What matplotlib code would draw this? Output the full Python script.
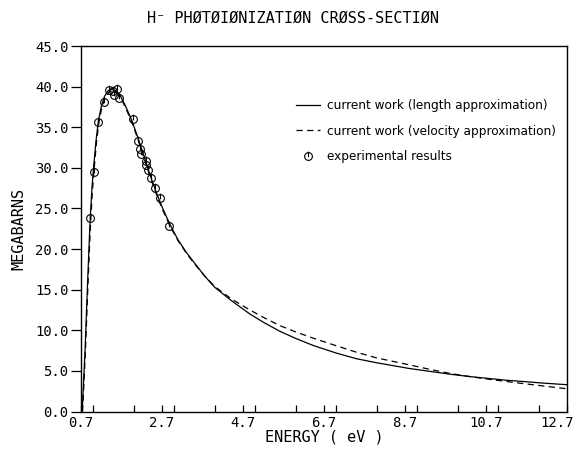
import numpy as np
import matplotlib
matplotlib.use("Agg")
import matplotlib.pyplot as plt
from matplotlib.path import Path
from matplotlib.ticker import MultipleLocator, FormatStrFormatter
from matplotlib.transforms import ScaledTranslation

# length approximation (solid)
len_energy = [0.73, 0.80, 0.86, 0.92, 0.97, 1.01, 1.07, 1.13, 1.20, 1.28, 1.37, 1.47,
              1.57, 1.67, 1.80, 1.95, 2.10, 2.25, 2.40, 2.55, 2.70, 2.90, 3.10, 3.30,
              3.50, 3.75, 4.00, 4.40, 4.87, 5.20, 5.60, 6.00, 6.45, 7.00, 7.50, 8.00,
              8.80, 9.30, 9.80, 10.30, 10.80, 11.20, 11.60, 12.10, 12.70]
len_sigma = [0.0, 7.5, 15.5, 23.0, 27.5, 30.0, 33.3, 35.8, 37.5, 38.8, 39.5, 39.7,
             39.5, 38.9, 37.6, 35.9, 33.8, 31.5, 29.2, 27.1, 25.2, 23.0, 21.1, 19.6,
             18.3, 16.7, 15.3, 13.7, 12.0, 11.0, 9.9, 9.0, 8.1, 7.2, 6.5, 6.0,
             5.3, 4.95, 4.6, 4.3, 4.05, 3.85, 3.7, 3.5, 3.3]

# velocity approximation (dashed)
vel_energy = [0.74, 0.81, 0.87, 0.93, 0.98, 1.02, 1.08, 1.14, 1.21, 1.29, 1.38, 1.48,
              1.58, 1.68, 1.80, 1.95, 2.10, 2.25, 2.40, 2.55, 2.70, 2.90, 3.10, 3.30,
              3.50, 3.75, 4.00, 4.40, 4.87, 5.20, 5.60, 6.00, 6.45, 7.00, 7.50, 8.00,
              8.80, 9.30, 9.80, 10.30, 10.80, 11.20, 11.60, 12.10, 12.70]
vel_sigma = [0.0, 7.5, 15.3, 22.5, 27.0, 29.6, 33.0, 35.5, 37.3, 38.6, 39.3, 39.5,
             39.3, 38.7, 37.4, 35.7, 33.6, 31.3, 29.0, 26.9, 25.0, 22.8, 21.0, 19.5,
             18.2, 16.7, 15.4, 13.9, 12.5, 11.6, 10.6, 9.8, 9.0, 8.1, 7.3, 6.6,
             5.75, 5.2, 4.7, 4.3, 3.95, 3.7, 3.45, 3.15, 2.8]

# experimental points
exp_energy = [0.92, 1.01, 1.13, 1.26, 1.39, 1.50, 1.52, 1.60, 1.65, 1.98,
              2.12, 2.16, 2.19, 2.30, 2.31, 2.36, 2.42, 2.52, 2.64, 2.88]
exp_sigma = [23.8, 29.5, 35.7, 38.1, 39.6, 39.4, 39.0, 39.7, 38.6, 36.0,
             33.3, 32.3, 31.7, 30.9, 30.3, 29.7, 28.7, 27.5, 26.3, 22.9]

x_ticks = [0.7, 2.7, 4.7, 6.7, 8.7, 10.7, 12.7]

mono = "DejaVu Sans Mono"

# circle with a vertical stroke, like the plotter symbol
circ = Path.unit_circle()
stroke = Path([[0, -0.2], [0, 1.25]], [Path.MOVETO, Path.LINETO])
exp_marker = Path.make_compound_path(circ, stroke)

fig = plt.figure(figsize=(5.76, 4.55), dpi=100)
ax = fig.add_axes([0.1406, 0.0956, 0.8438, 0.8033])

ax.plot(len_energy, len_sigma, color="black", lw=0.9, ls="-",
        label="current work (length approximation)")
ax.plot(vel_energy, vel_sigma, color="black", lw=0.9, ls=(0, (5, 3.5)),
        label="current work (velocity approximation)")
ax.plot(exp_energy, exp_sigma, ls="none", marker=exp_marker, markersize=7,
        markerfacecolor="none", markeredgecolor="black", markeredgewidth=0.8,
        label="experimental results")

ax.set_xlim(0.7, 12.7)
ax.set_ylim(0, 45)
ax.set_xticks(x_ticks)
ax.xaxis.set_minor_locator(MultipleLocator(1.0))
ax.xaxis.set_major_formatter(FormatStrFormatter("%.1f"))
ax.yaxis.set_major_locator(MultipleLocator(5.0))
ax.yaxis.set_major_formatter(FormatStrFormatter("%.1f"))

ax.tick_params(axis="x", which="both", direction="in", length=5, width=0.9,
               labelsize=10, pad=3)
ax.tick_params(axis="y", direction="out", length=7, width=0.9, labelsize=10, pad=2)
for lab in ax.get_xticklabels() + ax.get_yticklabels():
    lab.set_family(mono)
# last x label sits pulled in from the right edge
last = ax.get_xticklabels()[-1]
last.set_transform(last.get_transform() + ScaledTranslation(-10 / 100, 0, fig.dpi_scale_trans))
for s in ax.spines.values():
    s.set_linewidth(1.0)

ax.set_xlabel("ENERGY ( eV )", family=mono, fontsize=11, labelpad=0)
ax.set_ylabel("MEGABARNS", family=mono, fontsize=11, labelpad=6)
fig.text(0.508, 0.96, "H\u207b PH\u00d8T\u00d8I\u00d8NIZATI\u00d8N CR\u00d8SS-SECTI\u00d8N",
         family=mono, fontsize=11, ha="center", va="center")

ax.legend(loc="upper right", bbox_to_anchor=(1.0, 0.885), frameon=False,
          prop={"family": "DejaVu Sans", "size": 8.7}, handlelength=2.0,
          handletextpad=0.6, labelspacing=1.05)

fig.savefig("out.png", dpi=100)
